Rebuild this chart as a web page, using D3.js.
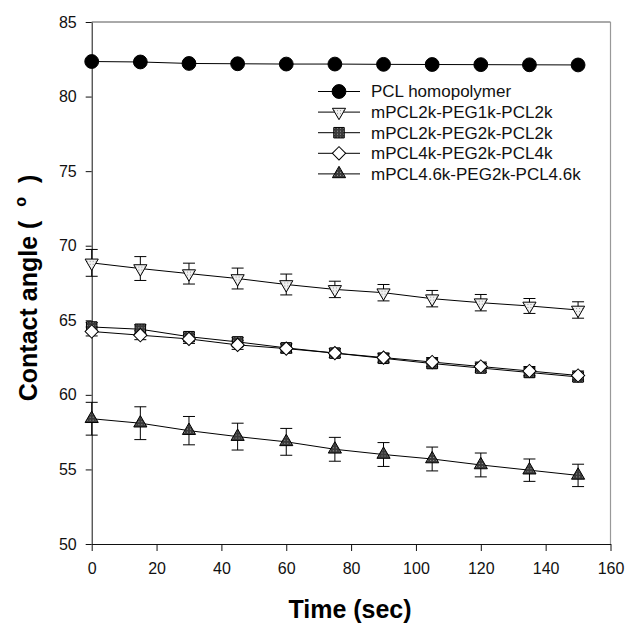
<!DOCTYPE html>
<html><head><meta charset="utf-8">
<script src="https://cdn.jsdelivr.net/npm/d3@7"></script>
<style>body{margin:0;background:#fff}svg{display:block}</style>
</head><body>
<svg id="c" width="627" height="626"></svg>
<script>
const times = [0, 15, 30, 45, 60, 75, 90, 105, 120, 135, 150];
const seriesNames = ["PCL homopolymer", "mPCL2k-PEG1k-PCL2k", "mPCL2k-PEG2k-PCL2k", "mPCL4k-PEG2k-PCL4k", "mPCL4.6k-PEG2k-PCL4.6k"];
const pclVals   = [82.35, 82.32, 82.22, 82.2, 82.18, 82.18, 82.16, 82.15, 82.14, 82.13, 82.12];
const pclErr    = [0.1, 0.1, 0.1, 0.1, 0.1, 0.1, 0.1, 0.1, 0.1, 0.1, 0.1];
const peg1kVals = [68.85, 68.47, 68.13, 67.8, 67.4, 67.07, 66.85, 66.45, 66.18, 65.96, 65.69];
const peg1kErr  = [0.9, 0.8, 0.7, 0.7, 0.7, 0.55, 0.55, 0.55, 0.55, 0.5, 0.55];
const peg2kVals = [64.55, 64.4, 63.9, 63.55, 63.15, 62.8, 62.45, 62.1, 61.8, 61.5, 61.2];
const peg2kErr  = [0.3, 0.3, 0.3, 0.3, 0.3, 0.3, 0.3, 0.3, 0.3, 0.3, 0.3];
const pcl4kVals = [64.25, 64.0, 63.75, 63.35, 63.1, 62.8, 62.5, 62.2, 61.9, 61.6, 61.3];
const pcl4kErr  = [0.3, 0.3, 0.3, 0.3, 0.3, 0.3, 0.3, 0.3, 0.3, 0.3, 0.3];
const pcl46kVals = [58.4, 58.1, 57.6, 57.2, 56.85, 56.35, 56.0, 55.7, 55.3, 54.95, 54.6];
const pcl46kErr  = [1.1, 1.1, 0.95, 0.9, 0.9, 0.8, 0.8, 0.8, 0.8, 0.75, 0.75];
const xTicks = [0, 20, 40, 60, 80, 100, 120, 140, 160];
const yTicks = [50, 55, 60, 65, 70, 75, 80, 85];

const svg = d3.select("#c");
const FONT = "'Liberation Sans', Arial, Helvetica, sans-serif";
const x = d3.scaleLinear().domain([0, 160]).range([91.7, 610.5]);
const y = d3.scaleLinear().domain([50, 85]).range([544, 22]);

const defs = svg.append("defs");
function pat(id, bg, dot) {
  const p = defs.append("pattern").attr("id", id).attr("width", 3).attr("height", 3)
    .attr("patternUnits", "userSpaceOnUse");
  p.append("rect").attr("width", 3).attr("height", 3).attr("fill", bg);
  p.append("rect").attr("x", 1).attr("y", 1).attr("width", 1).attr("height", 1).attr("fill", dot);
}
pat("pDark", "#3a3a3a", "#9a9a9a");
pat("pLight", "#f0f0f0", "#9a9a9a");

const series = [
  {name: seriesNames[0], vals: pclVals, err: pclErr, sym: d3.symbolCircle, size: 150, rot: 0, fill: "#000"},
  {name: seriesNames[1], vals: peg1kVals, err: peg1kErr, sym: d3.symbolTriangle, size: 75, rot: 180, fill: "url(#pLight)"},
  {name: seriesNames[2], vals: peg2kVals, err: peg2kErr, sym: d3.symbolSquare, size: 110, rot: 0, fill: "url(#pDark)"},
  {name: seriesNames[3], vals: pcl4kVals, err: pcl4kErr, sym: d3.symbolSquare, size: 88, rot: 45, fill: "#fff"},
  {name: seriesNames[4], vals: pcl46kVals, err: pcl46kErr, sym: d3.symbolTriangle, size: 75, rot: 0, fill: "url(#pDark)"}
];

svg.append("line").attr("x1", x(0)).attr("x2", x(160)).attr("y1", y(85)).attr("y2", y(85))
  .attr("stroke", "#555").attr("stroke-width", 1);
svg.append("line").attr("x1", x(160)).attr("x2", x(160)).attr("y1", y(85)).attr("y2", y(50))
  .attr("stroke", "#999").attr("stroke-width", 1.2);

const gx = svg.append("g").attr("transform", `translate(0,${y(50)})`)
  .call(d3.axisBottom(x).tickValues(xTicks).tickSize(7).tickPadding(12).tickSizeOuter(0));
const gy = svg.append("g").attr("transform", `translate(${x(0)},0)`)
  .call(d3.axisLeft(y).tickValues(yTicks).tickSize(6).tickPadding(9).tickSizeOuter(0));
[gx, gy].forEach(g => {
  g.selectAll("text").attr("font-family", FONT).attr("font-size", 16).attr("fill", "#111");
  g.selectAll("line,path").attr("stroke", "#111");
});

const line = d3.line().x((d, i) => x(times[i])).y(d => y(d));

series.forEach(s => {
  const g = svg.append("g").attr("stroke", "#000").attr("stroke-width", 1).attr("fill", "none");
  s.vals.forEach((v, i) => {
    const cx = x(times[i]), hi = y(v + s.err[i]), lo = y(v - s.err[i]);
    g.append("line").attr("x1", cx).attr("x2", cx).attr("y1", hi).attr("y2", lo);
    g.append("line").attr("x1", cx - 6).attr("x2", cx + 6).attr("y1", hi).attr("y2", hi);
    g.append("line").attr("x1", cx - 6).attr("x2", cx + 6).attr("y1", lo).attr("y2", lo);
  });
});

series.forEach(s => {
  svg.append("path").attr("d", line(s.vals)).attr("fill", "none").attr("stroke", "#000").attr("stroke-width", 1);
});

series.forEach(s => {
  const sym = d3.symbol().type(s.sym).size(s.size);
  svg.append("g").selectAll("path").data(s.vals).join("path")
    .attr("d", sym)
    .attr("transform", (d, i) => `translate(${x(times[i])},${y(d)}) rotate(${s.rot})`)
    .attr("fill", s.fill).attr("stroke", "#000").attr("stroke-width", 1);
});

const lg = svg.append("g");
series.forEach((s, i) => {
  const cy = 91.5 + i * 20.6;
  lg.append("line").attr("x1", 318).attr("x2", 360).attr("y1", cy).attr("y2", cy).attr("stroke", "#000");
  lg.append("path").attr("d", d3.symbol().type(s.sym).size(s.size)())
    .attr("transform", `translate(339,${cy}) rotate(${s.rot})`)
    .attr("fill", s.fill).attr("stroke", "#000");
  lg.append("text").attr("x", 371).attr("y", cy + 5.8).text(s.name)
    .attr("font-family", FONT).attr("font-size", 17).attr("fill", "#111");
});

svg.append("text").attr("x", 350).attr("y", 618).attr("text-anchor", "middle")
  .attr("font-family", FONT).attr("font-weight", "bold").attr("font-size", 25).text("Time (sec)");
const yt = svg.append("text").attr("transform", "translate(37,288) rotate(-90)")
  .attr("text-anchor", "middle")
  .attr("font-family", FONT).attr("font-weight", "bold").attr("font-size", 25)
  .attr("xml:space", "preserve").style("white-space", "pre");
yt.append("tspan").text("Contact angle (  ");
yt.append("tspan").attr("font-size", 16).attr("dy", -11).text("o");
yt.append("tspan").attr("dy", 11).text("  )");
</script>
</body></html>
